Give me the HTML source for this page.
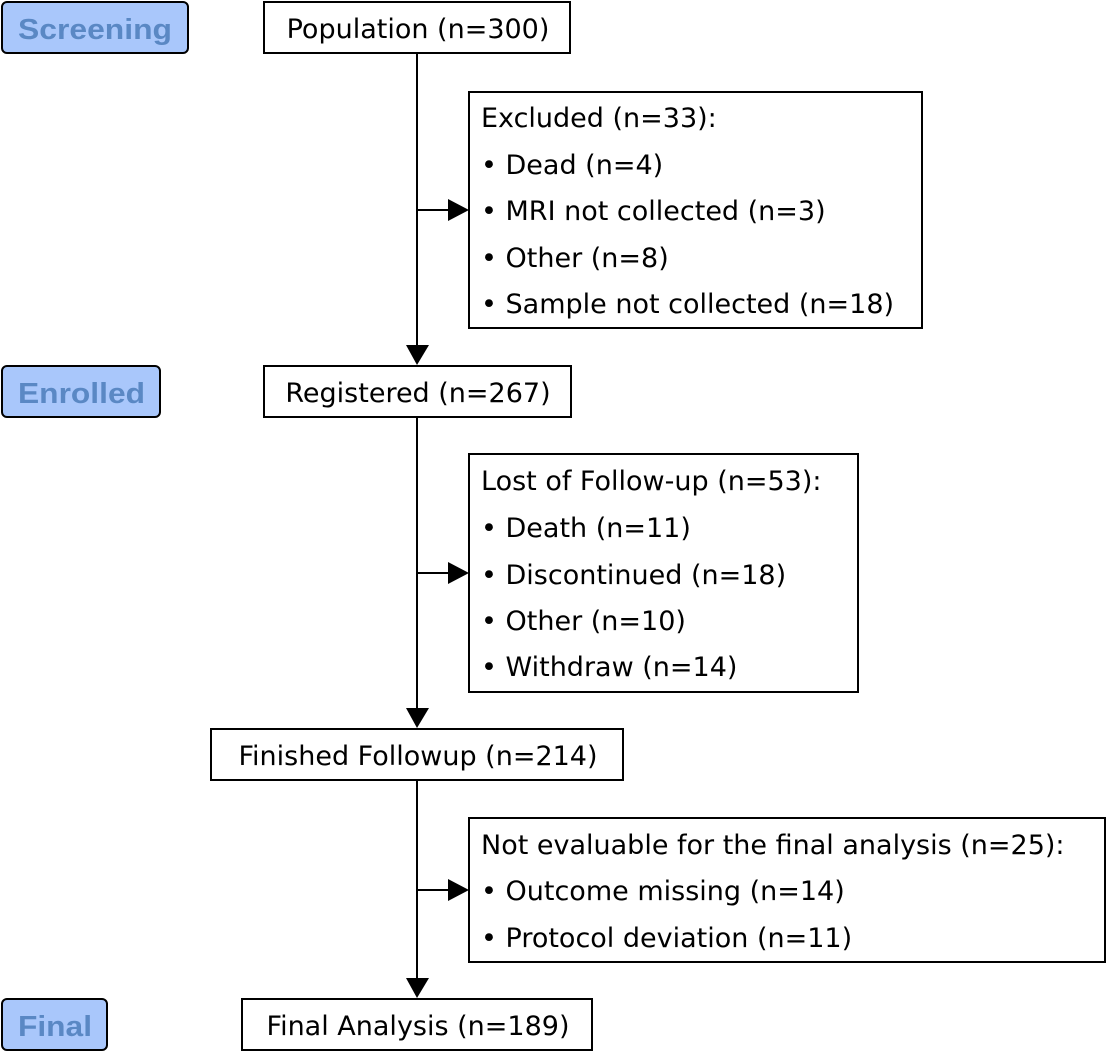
<!DOCTYPE html>
<html><head><meta charset="utf-8"><style>
html,body{margin:0;padding:0;background:#fff;width:1106px;height:1052px;overflow:hidden}
svg{display:block}
text{font-family:"DejaVu Sans","Liberation Sans",sans-serif;font-size:27px;fill:#000}
.lab{font-family:"Liberation Sans",sans-serif;font-size:29px;font-weight:bold;fill:#5a88c4}
</style></head><body>
<svg width="1106" height="1052" viewBox="0 0 1106 1052">
<g stroke="#000" stroke-width="2" fill="#fff">
<rect x="2" y="2" width="186" height="51" rx="5" fill="#a9c7fb"/>
<rect x="2" y="366" width="158" height="51" rx="5" fill="#a9c7fb"/>
<rect x="2" y="999" width="105" height="51" rx="5" fill="#a9c7fb"/>
<rect x="264" y="2" width="306" height="51"/>
<rect x="469" y="92" width="453" height="236"/>
<rect x="264" y="366" width="307" height="51"/>
<rect x="469" y="454" width="389" height="238"/>
<rect x="211" y="729" width="412" height="51"/>
<rect x="469" y="818" width="636" height="144"/>
<rect x="242" y="999" width="350" height="51"/>
<line x1="417" y1="53" x2="417" y2="347"/>
<line x1="417" y1="417" x2="417" y2="710"/>
<line x1="417" y1="780" x2="417" y2="980"/>
<line x1="417" y1="210" x2="450" y2="210"/>
<line x1="417" y1="573" x2="450" y2="573"/>
<line x1="417" y1="890" x2="450" y2="890"/>
</g>
<g fill="#000">
<polygon points="406,345 429,345 417,365"/>
<polygon points="406,708 429,708 417,728"/>
<polygon points="406,978 429,978 417,998"/>
<polygon points="448,199 448,221 469,210"/>
<polygon points="448,562 448,584 469,573"/>
<polygon points="448,879 448,901 469,890"/>
</g>
<text class="lab" x="18" y="39" textLength="154" lengthAdjust="spacingAndGlyphs">Screening</text>
<text class="lab" x="18" y="403" textLength="127" lengthAdjust="spacingAndGlyphs">Enrolled</text>
<text class="lab" x="18" y="1036" textLength="74" lengthAdjust="spacingAndGlyphs">Final</text>
<text x="418" y="38" text-anchor="middle">Population (n=300)</text>
<text x="418" y="402" text-anchor="middle">Registered (n=267)</text>
<text x="418" y="765" text-anchor="middle">Finished Followup (n=214)</text>
<text x="418" y="1035" text-anchor="middle">Final Analysis (n=189)</text>
<text x="481" y="127">Excluded (n=33):</text>
<text x="481" y="174">• Dead (n=4)</text>
<text x="481" y="220">• MRI not collected (n=3)</text>
<text x="481" y="267">• Other (n=8)</text>
<text x="481" y="313">• Sample not collected (n=18)</text>
<text x="481" y="490">Lost of Follow-up (n=53):</text>
<text x="481" y="537">• Death (n=11)</text>
<text x="481" y="584">• Discontinued (n=18)</text>
<text x="481" y="630">• Other (n=10)</text>
<text x="481" y="676">• Withdraw (n=14)</text>
<text x="481" y="854">Not evaluable for the final analysis (n=25):</text>
<text x="481" y="900">• Outcome missing (n=14)</text>
<text x="481" y="947">• Protocol deviation (n=11)</text>
</svg>
</body></html>
